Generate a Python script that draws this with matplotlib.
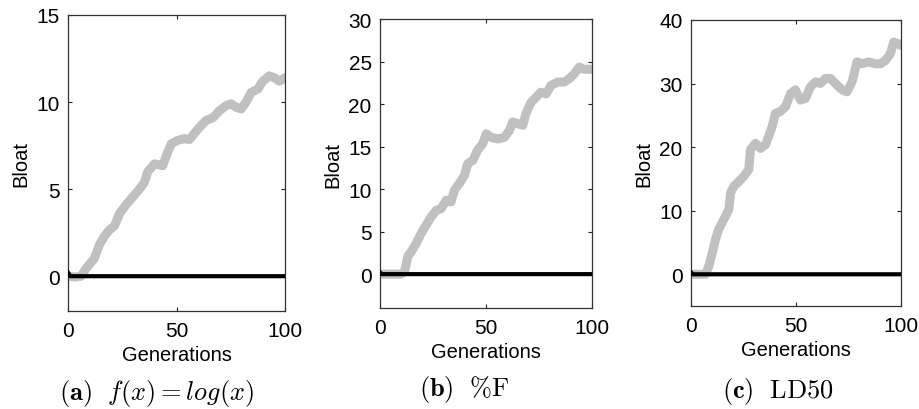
import matplotlib
matplotlib.use("Agg")
import matplotlib.pyplot as plt

plt.rcParams["font.family"] = ["Liberation Sans", "DejaVu Sans"]
plt.rcParams["mathtext.fontset"] = "cm"

# gray curve (bloat of the evolved population)
gen_a = [0, 3, 6, 8.3, 12, 14.4, 16.7, 19, 21.4, 23.7, 26.7, 29.8, 32.9, 35.2, 36.7,
         39.8, 43.6, 45.2, 47.5, 50.5, 53.5, 55.9, 58.2, 60.5, 63.6, 66.7, 69.7,
         72.8, 75.1, 77.4, 79.7, 82, 84.3, 87.4, 89.7, 92.6, 95, 97.4, 100]
bloat_a = [0.0, -0.05, 0.0, 0.45, 1.0, 1.8, 2.3, 2.65, 2.9, 3.6, 4.1, 4.55, 5.0, 5.4, 6.0,
           6.45, 6.35, 6.9, 7.6, 7.8, 7.9, 7.85, 8.2, 8.55, 8.95, 9.1, 9.5,
           9.8, 9.9, 9.7, 9.6, 10.0, 10.55, 10.75, 11.2, 11.5, 11.4, 11.2, 11.4]

gen_b = [0, 5, 10, 11.6, 13.2, 14.8, 17.1, 19.5, 21.9, 24.2, 26.6, 28.9, 31.3, 33.6,
         35.2, 37.6, 39.9, 41.5, 43.9, 46.2, 48.6, 50.2, 52.5, 55.7, 58.8, 61.2,
         62.7, 65.1, 67.5, 69, 71.4, 73.7, 76.1, 78.5, 80.8, 84, 87.1, 89.5, 91.8,
         94.2, 96.5, 100]
bloat_b = [0.0, 0.0, 0.0, 0.3, 2.1, 2.65, 3.6, 4.8, 5.8, 6.75, 7.5, 7.7, 8.7, 8.5,
           9.9, 10.7, 11.6, 13.0, 13.4, 14.6, 15.35, 16.5, 16.1, 15.9, 16.1, 16.9,
           17.9, 17.7, 17.5, 18.9, 20.2, 20.8, 21.4, 21.2, 22.2, 22.6, 22.6, 23.0, 23.55,
           24.35, 24.1, 24.1]

gen_c = [0, 4, 7, 8.6, 10.2, 11.7, 13.3, 15.7, 18.1, 18.9, 20.5, 22.9, 25.2, 27.6,
         28.4, 30.8, 33.2, 35.6, 37.1, 38.7, 40.3, 42.7, 45.1, 47.5, 49.8, 52.2,
         54.6, 57, 59.4, 61.7, 64.1, 66.5, 68.9, 72.1, 74.4, 76.8, 79.2, 81.6, 84.8,
         87.9, 90.3, 92.7, 95.1, 96.7, 99, 100]
bloat_c = [0.0, 0.0, 0.0, 1.35, 3.4, 5.5, 7.1, 8.65, 10.2, 12.8, 13.85, 14.6, 15.4, 16.5,
           19.6, 20.6, 19.8, 20.4, 21.7, 23.2, 25.3, 25.6, 26.35, 28.4, 29.0, 27.4,
           27.65, 29.5, 30.25, 30.0, 30.8, 30.8, 30.0, 29.0, 28.7, 30.25, 33.4, 33.1, 33.4,
           33.1, 33.1, 33.6, 34.7, 36.5, 36.25, 36.0]

# black curve (baseline), flat at zero after the first generation
gen_base = [0, 1, 100]
base_a = [0.2, 0.0, 0.0]
base_b = [0.2, 0.0, 0.0]
base_c = [0.3, 0.0, 0.0]

panels = [
    dict(gen=gen_a, bloat=bloat_a, base=base_a, ylim=(-2, 15), yticks=[0, 5, 10, 15],
         rect=[0.074, 0.239, 0.236, 0.722],
         caption=r"$\mathbf{(a)}\ \ f(x) = log(x)$", cap_x=0.170, cap_y=0.041),
    dict(gen=gen_b, bloat=bloat_b, base=base_b, ylim=(-4, 30), yticks=[0, 5, 10, 15, 20, 25, 30],
         rect=[0.413, 0.246, 0.230, 0.705],
         caption=r"$\mathbf{(b)}\ \ \mathrm{\%F}$", cap_x=0.505, cap_y=0.049),
    dict(gen=gen_c, bloat=bloat_c, base=base_c, ylim=(-5, 40), yticks=[0, 10, 20, 30, 40],
         rect=[0.751, 0.251, 0.228, 0.698],
         caption=r"$\mathbf{(c)}\ \ \mathrm{LD50}$", cap_x=0.845, cap_y=0.046),
]

fig = plt.figure(figsize=(9.2, 4.1), dpi=100)

for p in panels:
    ax = fig.add_axes(p["rect"])
    ax.plot(p["gen"], p["bloat"], color="#c0c0c0", lw=6.5, solid_capstyle="round",
            solid_joinstyle="round", zorder=2)
    ax.plot(gen_base, p["base"], color="black", lw=3.0, zorder=3)
    ax.set_xlim(0, 100)
    ax.set_ylim(*p["ylim"])
    ax.set_xticks([0, 50, 100])
    ax.set_yticks(p["yticks"])
    ax.tick_params(direction="in", top=True, right=True, length=3, width=0.8,
                   labelsize=15, pad=6, colors="#222222", labelcolor="black")
    ax.tick_params(axis="x", pad=7)
    for s in ax.spines.values():
        s.set_linewidth(0.9)
        s.set_color("#333333")
    ax.set_xlabel("Generations", fontsize=14.5, labelpad=4)
    ax.set_ylabel("Bloat", fontsize=14.5, labelpad=4)
    fig.text(p["cap_x"], p["cap_y"], p["caption"], fontsize=19, ha="center", va="center")

fig.savefig("out.png", dpi=100)
